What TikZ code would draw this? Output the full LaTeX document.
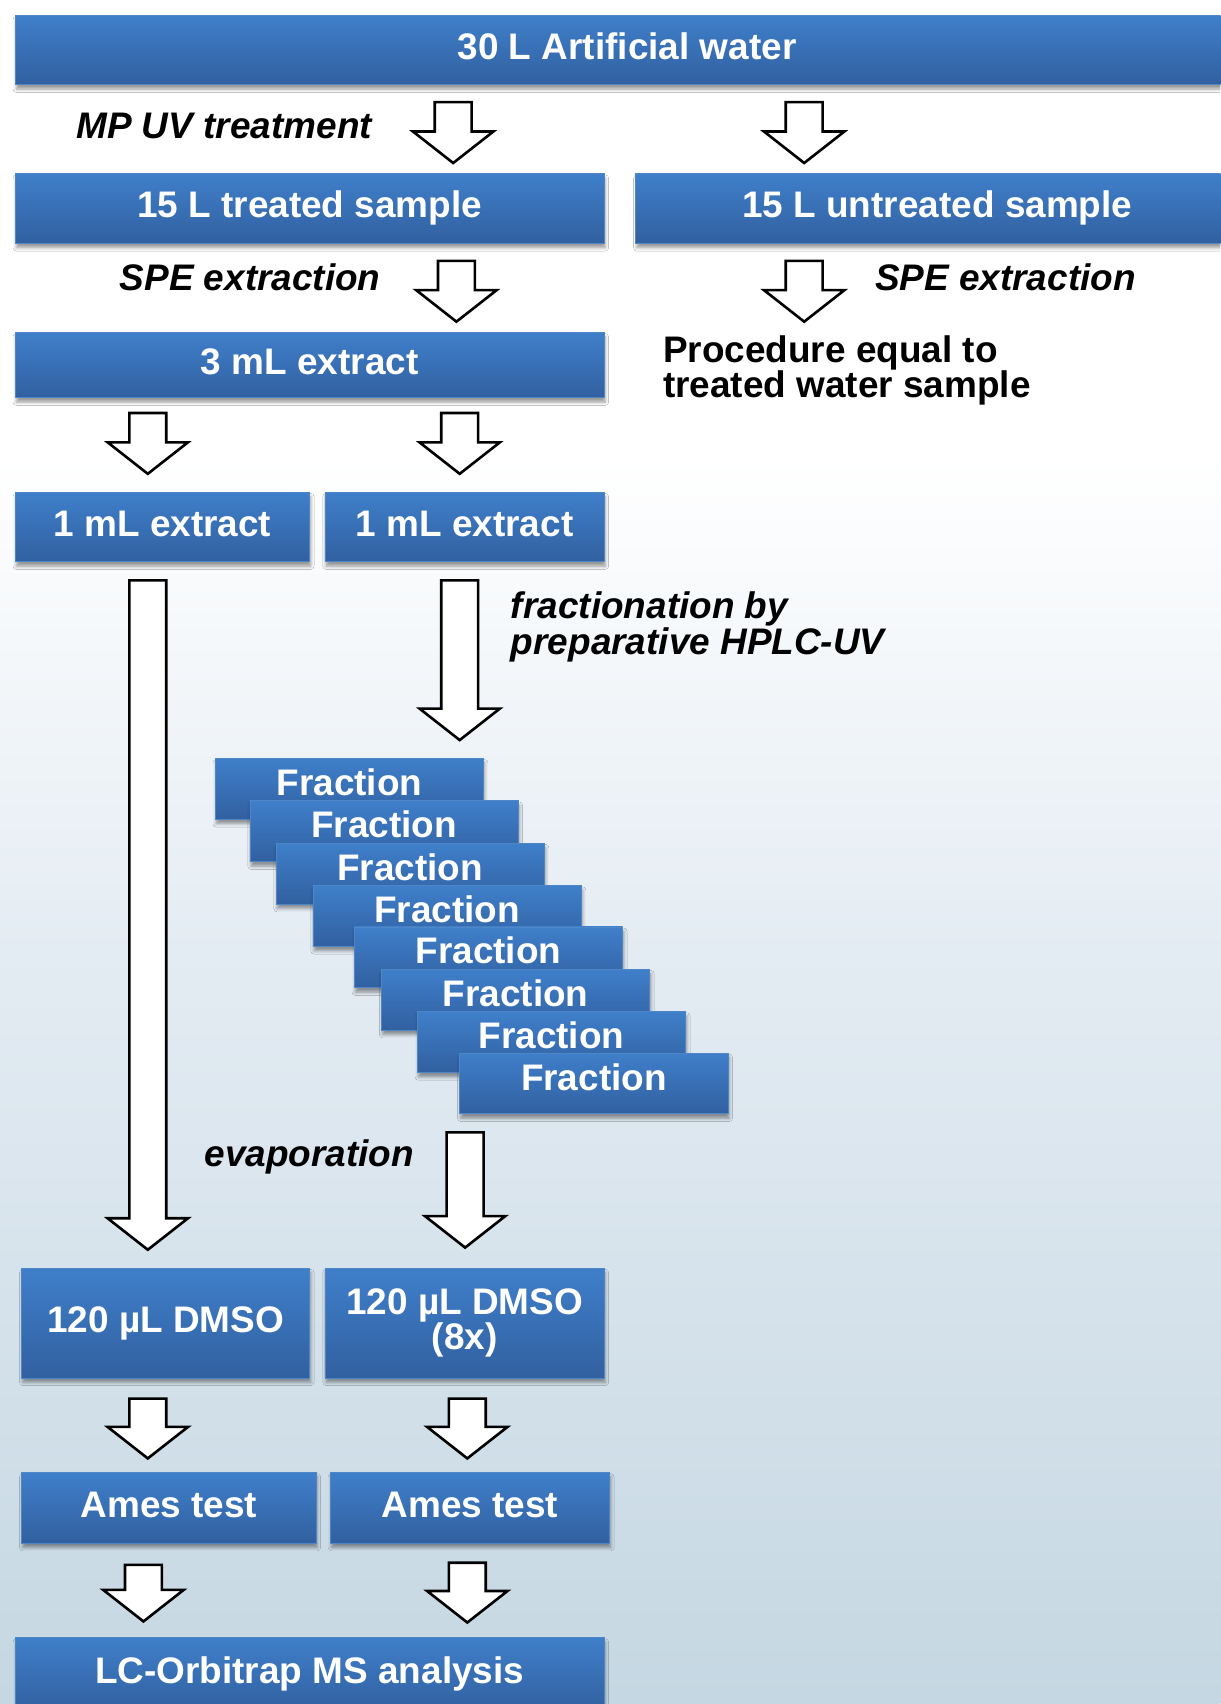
\documentclass[tikz,border=0pt]{standalone}
\usepackage{fontspec}
\setmainfont{Liberation Sans}
\usetikzlibrary{calc,shadows.blur}

\definecolor{boxtop}{HTML}{3F7FCA}
\definecolor{boxbot}{HTML}{3160A0}
\definecolor{boxedge}{HTML}{4F86C6}
\definecolor{bgmid}{HTML}{E4ECF3}
\definecolor{bgbot}{HTML}{C5D7E2}

\newcommand{\boxfont}{\fontsize{34}{32}\selectfont\bfseries}
\newcommand{\labelfont}{\fontsize{34}{33}\selectfont\bfseries\itshape}
\newcommand{\notefont}{\fontsize{34}{32}\selectfont\bfseries}

\tikzset{
  boxbase/.style={rectangle, inner sep=0pt, top color=boxtop, bottom color=boxbot,
    draw=boxedge, line width=0.8pt, text=white, font=\boxfont,
    blur shadow={shadow xshift=1pt, shadow yshift=-4pt, shadow blur radius=3pt, shadow opacity=40}},
  flowbox/.style={boxbase, text height=24pt, text depth=7pt},
  fracbox/.style={boxbase, text height=24pt, text depth=12pt, minimum width=247pt, minimum height=56pt},
  steplabel/.style={inner sep=0pt, font=\labelfont, text=black},
  notelabel/.style={inner sep=0pt, font=\notefont, text=black},
  blockarrow/.style={draw=black, fill=white, line width=2.4pt, line join=miter},
}

% hollow block arrow pointing down, from a top-centre point to its tip
\newcommand{\flowarrow}[2]{%
  \draw[blockarrow] ($(#1)+(-17,0)$) -- ($(#2)+(-17,-29)$) -- ($(#2)+(-37,-29)$)
    -- (#2) -- ($(#2)+(37,-29)$) -- ($(#2)+(17,-29)$) -- ($(#1)+(17,0)$) -- cycle;}

\begin{document}
\begin{tikzpicture}[x=1pt, y=-1pt]
  \useasboundingbox (0,0) rectangle (1123,1568);
  \clip (0,0) rectangle (1123,1568);

  % background
  \fill[white] (0,0) rectangle (1123,421);
  \shade[top color=white, bottom color=bgmid] (0,420) rectangle (1123,871);
  \shade[top color=bgmid, bottom color=bgbot] (0,870) rectangle (1123,1568);

  % process boxes
  \node[flowbox, minimum width=1126pt, minimum height=64pt] (water) at (577,46) {30 L Artificial water};
  \node[flowbox, minimum width=542pt, minimum height=64pt] (treated) at (285,192) {15 L treated sample};
  \node[flowbox, minimum width=555pt, minimum height=64pt] (untreated) at (862.5,192) {15 L untreated sample};
  \node[flowbox, minimum width=542pt, minimum height=60pt] (extract) at (285,336) {3 mL extract};
  \node[flowbox, minimum width=271pt, minimum height=64pt] (mlA) at (149.5,485) {1 mL extract};
  \node[flowbox, minimum width=257pt, minimum height=64pt] (mlB) at (427.5,485) {1 mL extract};

  % stacked fractions
  \node[fracbox] (f1) at (321.5,726) {Fraction};
  \node[fracbox] (f2) at (353.5,765) {Fraction};
  \node[fracbox] (f3) at (377.5,804) {Fraction};
  \node[fracbox] (f4) at (411.5,843) {Fraction};
  \node[fracbox] (f5) at (449.5,881) {Fraction};
  \node[fracbox] (f6) at (474.5,920) {Fraction};
  \node[fracbox] (f7) at (507.5,959) {Fraction};
  \node[fracbox] (f8) at (546.5,997) {Fraction};

  \node[flowbox, minimum width=265pt, minimum height=101pt] (dmsoA) at (152.5,1217.5) {120 µL DMSO};
  \node[boxbase, minimum width=257pt, minimum height=101pt, align=center] (dmsoB) at (427.5,1217.5) {120 µL DMSO\\(8x)};
  \node[flowbox, minimum width=271pt, minimum height=65pt] (amesA) at (155.5,1387.5) {Ames test};
  \node[flowbox, minimum width=257pt, minimum height=65pt] (amesB) at (432.5,1387.5) {Ames test};
  \node[flowbox, minimum width=542pt, minimum height=68pt] (lcms) at (285,1541) {LC-Orbitrap MS analysis};

  % step labels
  \node[steplabel, anchor=base west] (uvlabel) at (70,127) {MP UV treatment};
  \node[steplabel, anchor=base west] (speA) at (110,267) {SPE extraction};
  \node[steplabel, anchor=base west] (speB) at (805,267) {SPE extraction};
  \node[notelabel, anchor=north west, align=left] (procnote) at (610,308.5) {Procedure equal to\\treated water sample};
  \node[steplabel, anchor=north west, align=left] (fraclabel) at (470,544) {fractionation by\\preparative HPLC-UV};
  \node[steplabel, anchor=base west] (evaplabel) at (188,1073) {evaporation};

  % arrow end points
  \coordinate (a1s) at (417,94);   \coordinate (a1t) at (417,150);
  \coordinate (a2s) at (740,94);   \coordinate (a2t) at (740,150);
  \coordinate (a3s) at (420,240);  \coordinate (a3t) at (420,296);
  \coordinate (a4s) at (740,240);  \coordinate (a4t) at (740,296);
  \coordinate (a5s) at (136,380);  \coordinate (a5t) at (136,436);
  \coordinate (a6s) at (423,380);  \coordinate (a6t) at (423,436);
  \coordinate (a7s) at (136,534);  \coordinate (a7t) at (136,1150);
  \coordinate (a8s) at (423,534);  \coordinate (a8t) at (423,681);
  \coordinate (a9s) at (428,1042); \coordinate (a9t) at (428,1148);
  \coordinate (a10s) at (136,1287); \coordinate (a10t) at (136,1342);
  \coordinate (a11s) at (430,1287); \coordinate (a11t) at (430,1342);
  \coordinate (a12s) at (132,1440); \coordinate (a12t) at (132,1492);
  \coordinate (a13s) at (430,1438); \coordinate (a13t) at (430,1493);

  % arrows
  \flowarrow{a1s}{a1t}
  \flowarrow{a2s}{a2t}
  \flowarrow{a3s}{a3t}
  \flowarrow{a4s}{a4t}
  \flowarrow{a5s}{a5t}
  \flowarrow{a6s}{a6t}
  \flowarrow{a7s}{a7t}
  \flowarrow{a8s}{a8t}
  \flowarrow{a9s}{a9t}
  \flowarrow{a10s}{a10t}
  \flowarrow{a11s}{a11t}
  \flowarrow{a12s}{a12t}
  \flowarrow{a13s}{a13t}
\end{tikzpicture}
\end{document}
